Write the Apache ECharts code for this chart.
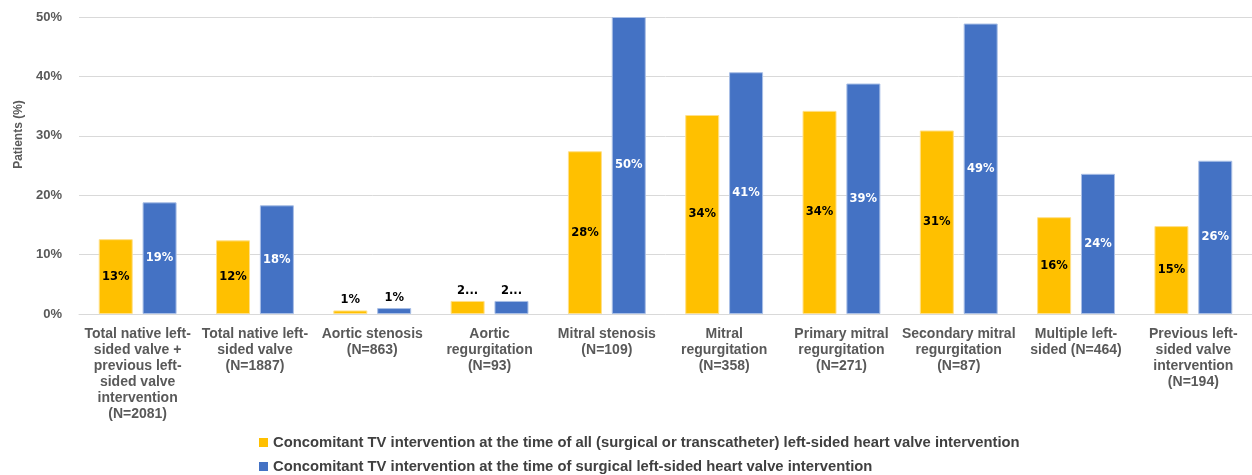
<!DOCTYPE html>
<html>
<head>
<meta charset="utf-8">
<script src="https://cdn.jsdelivr.net/npm/echarts@6/dist/echarts.min.js"></script>
<style>html,body{margin:0;padding:0;background:#fff}#c{width:1252px;height:475px}</style>
</head>
<body>
<div id="c"></div>
<script>
const categories = [
  "Total native left-\nsided valve +\nprevious left-\nsided valve\nintervention\n(N=2081)",
  "Total native left-\nsided valve\n(N=1887)",
  "Aortic stenosis\n(N=863)",
  "Aortic\nregurgitation\n(N=93)",
  "Mitral stenosis\n(N=109)",
  "Mitral\nregurgitation\n(N=358)",
  "Primary mitral\nregurgitation\n(N=271)",
  "Secondary mitral\nregurgitation\n(N=87)",
  "Multiple left-\nsided (N=464)",
  "Previous left-\nsided valve\nintervention\n(N=194)"
];
const seriesNames = [
  "Concomitant TV intervention at the time of all (surgical or transcatheter) left-sided heart valve intervention",
  "Concomitant TV intervention at the time of surgical left-sided heart valve intervention"
];
const allValues = [12.6, 12.4, 0.6, 2.2, 27.4, 33.5, 34.2, 30.9, 16.3, 14.8];
const surgicalValues = [18.8, 18.3, 1.0, 2.2, 50.0, 40.7, 38.8, 48.9, 23.6, 25.8];
const allLabels = ["13%", "12%", "1%", "2...", "28%", "34%", "34%", "31%", "16%", "15%"];
const surgicalLabels = ["19%", "18%", "1%", "2...", "50%", "41%", "39%", "49%", "24%", "26%"];
const yTicks = [0, 10, 20, 30, 40, 50];

const colors = ["#FFC000", "#4472C4"];
const font = "'Liberation Sans', Arial, sans-serif";
const labelFont = "'DejaVu Sans', Verdana, sans-serif";

function buildData(values, labels, insideColor) {
  return values.map((v, i) => {
    const small = v < 5;
    return {
      value: v,
      label: {
        show: true,
        formatter: labels[i],
        position: small ? 'top' : 'inside',
        distance: 4,
        color: small ? '#000' : insideColor,
        fontWeight: 'bold',
        fontSize: 11.5,
        fontFamily: labelFont
      }
    };
  });
}

const legendText = {fontSize: 14.8, fontWeight: 'bold', color: '#404040', fontFamily: font};

const chart = echarts.init(document.getElementById('c'), null, {renderer: 'canvas'});
chart.setOption({
  animation: false,
  color: colors,
  textStyle: {fontFamily: font},
  grid: {left: 79, right: -11, top: 17, bottom: 161, containLabel: false},
  legend: [
    {
      left: 259, top: 435, padding: 0,
      itemWidth: 9, itemHeight: 9, itemGap: 8, icon: 'rect',
      itemStyle: {borderWidth: 0},
      textStyle: legendText,
      data: [seriesNames[0]]
    },
    {
      left: 259, top: 459, padding: 0,
      itemWidth: 9, itemHeight: 9, itemGap: 8, icon: 'rect',
      itemStyle: {borderWidth: 0},
      textStyle: legendText,
      data: [seriesNames[1]]
    }
  ],
  xAxis: {
    type: 'category',
    data: categories,
    axisTick: {show: false},
    axisLine: {lineStyle: {color: '#d9d9d9', width: 1}},
    axisLabel: {
      interval: 0,
      margin: 12,
      color: '#595959',
      fontWeight: 'bold',
      fontSize: 14,
      lineHeight: 16,
      fontFamily: font
    }
  },
  yAxis: {
    type: 'value',
    min: 0,
    max: 50,
    interval: 10,
    name: 'Patients (%)',
    nameLocation: 'middle',
    nameGap: 52,
    nameTextStyle: {color: '#595959', fontSize: 12, fontWeight: 'bold', fontFamily: font, padding: [0, 0, 0, 62]},
    axisLine: {show: false},
    axisTick: {show: false},
    splitLine: {lineStyle: {color: '#d9d9d9', width: 1}},
    axisLabel: {
      margin: 17,
      color: '#595959',
      fontWeight: 'bold',
      fontSize: 13,
      fontFamily: font,
      formatter: v => yTicks.includes(v) ? v + '%' : ''
    }
  },
  series: [
    {
      name: seriesNames[0],
      type: 'bar',
      barWidth: 34,
      barGap: '29%',
      itemStyle: {color: colors[0], borderColor: '#FFE08A', borderWidth: 1},
      data: buildData(allValues, allLabels, '#000')
    },
    {
      name: seriesNames[1],
      type: 'bar',
      barWidth: 34,
      barGap: '29%',
      itemStyle: {color: colors[1], borderColor: '#A9BFE6', borderWidth: 1},
      data: buildData(surgicalValues, surgicalLabels, '#fff')
    }
  ]
});
</script>
</body>
</html>
